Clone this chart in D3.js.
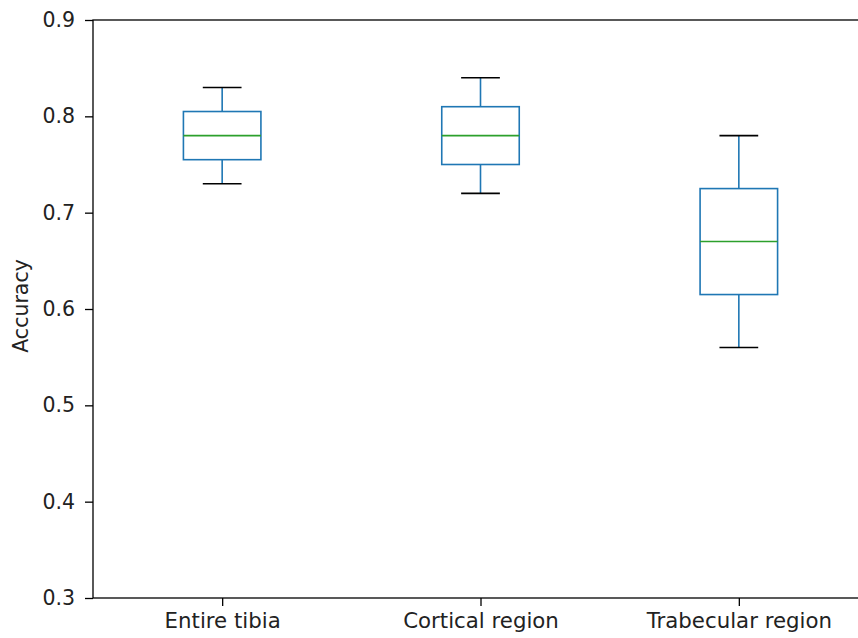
<!DOCTYPE html>
<html>
<head>
<meta charset="utf-8">
<script src="https://cdn.jsdelivr.net/npm/d3@7"></script>
<style>
  html, body { margin: 0; padding: 0; background: #fff; }
  svg { display: block; }
  text { font-family: "DejaVu Sans", sans-serif; fill: #222; }
</style>
</head>
<body>
<svg id="chart" width="858" height="638"></svg>
<script>
// Accuracy distributions per region
const categories = ["Entire tibia", "Cortical region", "Trabecular region"];
const whiskerLow = [0.73, 0.72, 0.56];
const q1 = [0.755, 0.75, 0.615];
const median = [0.78, 0.78, 0.67];
const q3 = [0.805, 0.81, 0.725];
const whiskerHigh = [0.83, 0.84, 0.78];
const yTicks = [0.3, 0.4, 0.5, 0.6, 0.7, 0.8, 0.9];

const svg = d3.select("#chart");
const margin = { left: 93, top: 20, bottom: 598, right: 868 };
const fontSize = 20.5;

// positions 1..3 with half-unit padding on each side
const x = d3.scaleLinear().domain([0.5, 3.5]).range([margin.left, margin.right]);
const y = d3.scaleLinear().domain([0.3, 0.9]).range([margin.bottom, margin.top]);

const boxW = 0.3, capW = 0.15;
const blue = "#1f77b4", green = "#2ca02c", lw = 1.6;

// axes
const yAxis = d3.axisLeft(y).tickValues(yTicks).tickFormat(d3.format(".1f")).tickSize(8).tickPadding(10);
const gy = svg.append("g").attr("transform", `translate(${margin.left},0)`).call(yAxis);
const xAxis = d3.axisBottom(x).tickValues([1, 2, 3]).tickFormat((d, i) => categories[i]).tickSize(8).tickPadding(7);
const gx = svg.append("g").attr("transform", `translate(0,${margin.bottom})`).call(xAxis);
[gx, gy].forEach(g => {
  g.select(".domain").remove();
  g.selectAll("line").attr("stroke", "#000").attr("stroke-width", 1.3);
  g.selectAll("text").attr("fill", "#222").attr("font-family", "DejaVu Sans, sans-serif");
});
gy.selectAll("text").attr("font-size", fontSize);
gx.selectAll("text").attr("font-size", 21.3);

// frame
svg.append("rect")
  .attr("x", margin.left).attr("y", margin.top)
  .attr("width", margin.right - margin.left).attr("height", margin.bottom - margin.top)
  .attr("fill", "none").attr("stroke", "#000").attr("stroke-width", 1.3);

// y label
svg.append("text")
  .attr("transform", `translate(28,306) rotate(-90)`)
  .attr("text-anchor", "middle")
  .attr("font-size", fontSize)
  .text("Accuracy");

// boxes
const data = categories.map((c, i) => ({
  pos: i + 1, lo: whiskerLow[i], q1: q1[i], med: median[i], q3: q3[i], hi: whiskerHigh[i]
}));
const g = svg.append("g");
data.forEach(d => {
  // whiskers
  g.append("line").attr("x1", x(d.pos)).attr("x2", x(d.pos)).attr("y1", y(d.q3)).attr("y2", y(d.hi))
    .attr("stroke", blue).attr("stroke-width", lw);
  g.append("line").attr("x1", x(d.pos)).attr("x2", x(d.pos)).attr("y1", y(d.q1)).attr("y2", y(d.lo))
    .attr("stroke", blue).attr("stroke-width", lw);
  // caps
  [d.lo, d.hi].forEach(v => {
    g.append("line").attr("x1", x(d.pos - capW / 2)).attr("x2", x(d.pos + capW / 2))
      .attr("y1", y(v)).attr("y2", y(v)).attr("stroke", "#000").attr("stroke-width", lw);
  });
  // box
  g.append("rect").attr("x", x(d.pos - boxW / 2)).attr("width", x(d.pos + boxW / 2) - x(d.pos - boxW / 2))
    .attr("y", y(d.q3)).attr("height", y(d.q1) - y(d.q3))
    .attr("fill", "none").attr("stroke", blue).attr("stroke-width", lw);
  // median
  g.append("line").attr("x1", x(d.pos - boxW / 2)).attr("x2", x(d.pos + boxW / 2))
    .attr("y1", y(d.med)).attr("y2", y(d.med)).attr("stroke", green).attr("stroke-width", lw);
});
</script>
</body>
</html>
